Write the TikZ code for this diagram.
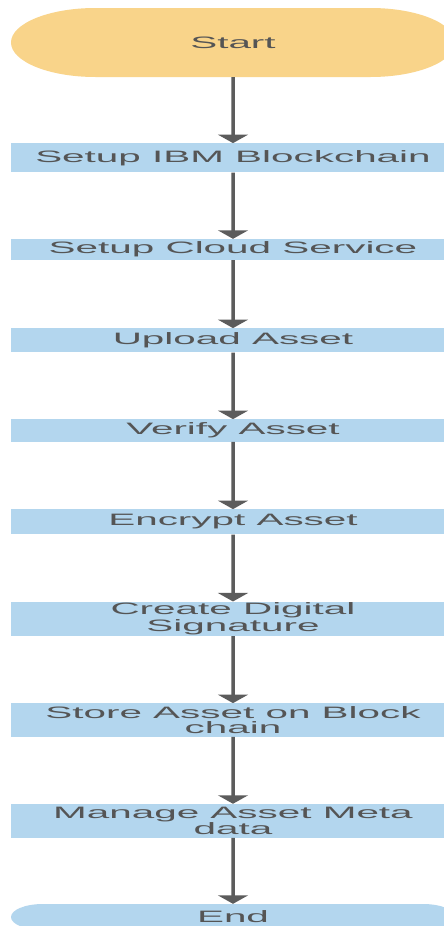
\documentclass[tikz,border=0pt]{standalone}
\usepackage{fontspec}
\setmainfont{Liberation Sans}
\usetikzlibrary{shapes.misc, arrows.meta}
\definecolor{startfill}{HTML}{F9D48A}
\definecolor{boxfill}{HTML}{B3D6EE}
\definecolor{txtgray}{HTML}{555555}
\definecolor{arrowgray}{HTML}{5C5C5C}
\begin{document}
\begin{tikzpicture}[x=1pt, y=-1pt, line join=round,
		font=\fontsize{16.5}{15}\selectfont,
		stepbox/.style={rectangle, fill=boxfill, text=txtgray, align=center, inner sep=0pt,
			xscale=\sx, minimum width={444pt/\sx}},
		terminal/.style={rounded rectangle, text=txtgray, inner sep=0pt,
			xscale=\sx, minimum width={444pt/\sx}},
		flow/.style={-{Triangle[width=30pt, length=8.5pt]}, draw=arrowgray, line width=3.5pt}]
	\def\sx{2.45}
	\clip (0,0) rectangle (444,926);
	\fill[white] (0,0) rectangle (444,926);
	% start and end
	\node[terminal, fill=startfill, minimum height=69pt] (start) at (233,42.5) {Start};
	\node[terminal, fill=boxfill, minimum height=26pt] (end) at (233,917) {End};
	% steps
	\foreach \n/\y/\h/\t in {b1/157.8/29/{Setup IBM Blockchain},
			b2/249.5/21/{Setup Cloud Service},
			b3/340.3/24/{Upload Asset},
			b4/430.5/22.4/{Verify Asset},
			b5/521.8/25/{Encrypt Asset},
			b6/618.8/34.3/{Create Digital\\Signature},
			b7/720/33.4/{Store Asset on Block\\chain},
			b8/820.8/33.7/{Manage Asset Meta\\data}} {
		\node[stepbox, minimum height=\h pt] (\n) at (233,\y) {\t};
	}
	\foreach \a/\b in {start/b1, b1/b2, b2/b3, b3/b4, b4/b5, b5/b6, b6/b7, b7/b8, b8/end}
		\draw[flow] (\a) -- (\b);
\end{tikzpicture}
\end{document}
